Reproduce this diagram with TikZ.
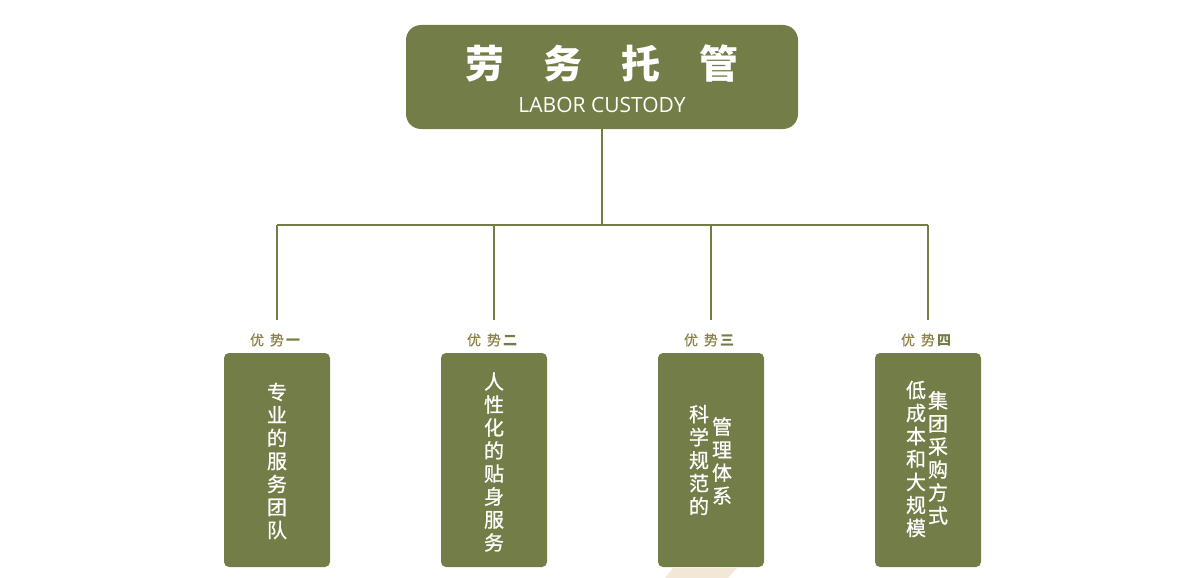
\documentclass[tikz,border=0pt]{standalone}
\usepackage{fontspec}
\newfontfamily\cjk{Noto Sans CJK SC}
\newfontfamily\cjkm{Noto Sans CJK SC}[FakeBold=0.8]
\newfontfamily\lat{Open Sans}
\definecolor{olv}{RGB}{115,125,71}
\definecolor{gold}{RGB}{140,128,72}
\definecolor{beige}{RGB}{243,231,216}
\begin{document}
\begin{tikzpicture}[x=1pt,y=-1pt,
  topbox/.style={fill=olv,draw=none,rounded corners=15pt,minimum width=392pt,minimum height=104pt,inner sep=0pt},
  advbox/.style={fill=olv,draw=none,rounded corners=5pt,minimum width=106pt,minimum height=214pt,inner sep=0pt},
  conn/.style={draw=olv,line width=2.7pt},
  vtext/.style={text=white,inner sep=0pt,align=center,font=\cjkm\fontsize{20}{23}\selectfont},
  lbl/.style={inner sep=0pt,font=\cjkm\fontsize{14}{16}\selectfont,text=gold}]
\useasboundingbox (0,0) rectangle (1200,578);
\fill[beige] (673,568) -- (737,568) -- (728,578) -- (665,578) -- cycle;
% top box
\node[topbox] (top) at (602,77) {};
\node[text=white,inner sep=0pt,font=\cjk\bfseries\fontsize{39}{41}\selectfont] (title) at (602,64) {劳\hspace{39pt}务\hspace{39pt}托\hspace{39pt}管};
\node[text=white,inner sep=0pt,font=\lat\fontsize{21}{24}\selectfont] (sub) at (602,105) {LABOR CUSTODY};
% connectors
\coordinate (j) at (602,225);
\coordinate (h1) at (277,225);
\coordinate (h2) at (494,225);
\coordinate (h3) at (711,225);
\coordinate (h4) at (928,225);
\coordinate (d1) at (277,320);
\coordinate (d2) at (494,320);
\coordinate (d3) at (711,320);
\coordinate (d4) at (928,320);
\draw[conn] (top.south) -- (j);
\draw[conn] (h1) -- (h4);
\draw[conn] (h1) -- (d1);
\draw[conn] (h2) -- (d2);
\draw[conn] (h3) -- (d3);
\draw[conn] (h4) -- (d4);
% labels
\node[lbl] (l1) at (275,340) {优\hspace{6pt}势\hspace{2pt}\textcolor{olv}{\cjk\bfseries 一}};
\node[lbl] (l2) at (492,340) {优\hspace{6pt}势\hspace{2pt}\textcolor{olv}{\cjk\bfseries 二}};
\node[lbl] (l3) at (709,340) {优\hspace{6pt}势\hspace{2pt}\textcolor{olv}{\cjk\bfseries 三}};
\node[lbl] (l4) at (926,340) {优\hspace{6pt}势\hspace{2pt}\textcolor{olv}{\cjk\bfseries 四}};
% boxes
\node[advbox] (b1) at (277,460) {};
\node[advbox] (b2) at (494,460) {};
\node[advbox] (b3) at (711,460) {};
\node[advbox] (b4) at (928,460) {};
% texts
\node[vtext] (t1) at (277,461) {专\\业\\的\\服\\务\\团\\队};
\node[vtext] (t2) at (494,462) {人\\性\\化\\的\\贴\\身\\服\\务};
\node[vtext] (t3a) at (699,460) {科\\学\\规\\范\\的};
\node[vtext] (t3b) at (722,461) {管\\理\\体\\系};
\node[vtext] (t4a) at (916,459) {低\\成\\本\\和\\大\\规\\模};
\node[vtext] (t4b) at (938,458) {集\\团\\采\\购\\方\\式};
\end{tikzpicture}
\end{document}
